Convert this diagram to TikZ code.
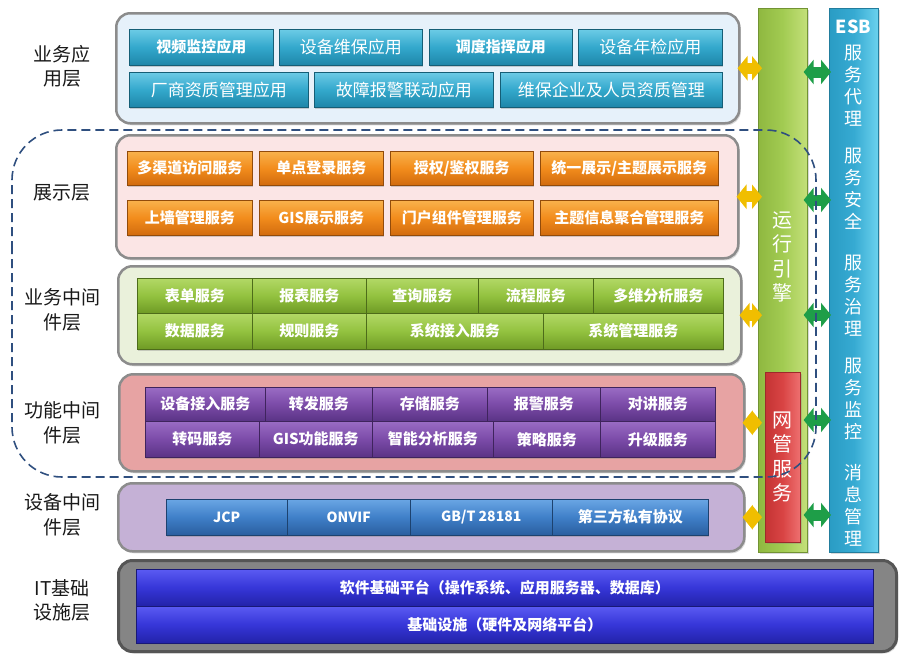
\documentclass[tikz,border=0pt]{standalone}
\usepackage{fontspec}
\setmainfont{Noto Sans CJK SC}
\usetikzlibrary{arrows.meta,shadows}
\definecolor{cyanT}{HTML}{6CCBE6}\definecolor{cyanM}{HTML}{33A8CC}\definecolor{cyanB}{HTML}{1E86A8}
\definecolor{orgT}{HTML}{F9B24C}\definecolor{orgM}{HTML}{F28C1C}\definecolor{orgB}{HTML}{D16B0E}
\definecolor{grnT}{HTML}{B2D866}\definecolor{grnM}{HTML}{93C23F}\definecolor{grnB}{HTML}{6E9A25}
\definecolor{purT}{HTML}{9A6CC4}\definecolor{purM}{HTML}{7B4BA8}\definecolor{purB}{HTML}{5A3385}
\definecolor{bluT}{HTML}{6AA6E4}\definecolor{bluM}{HTML}{3F7FC8}\definecolor{bluB}{HTML}{2A5E9E}
\definecolor{indT}{HTML}{5A5AF2}\definecolor{indM}{HTML}{3636D8}\definecolor{indB}{HTML}{2222A8}
\definecolor{fillA}{HTML}{E6F1FA}\definecolor{fillB}{HTML}{FBE5E5}\definecolor{fillC}{HTML}{EAF1DB}
\definecolor{fillD}{HTML}{E7A3A3}\definecolor{fillE}{HTML}{C5B1D6}\definecolor{fillF}{HTML}{858585}
\definecolor{laygray}{HTML}{8C8C8C}\definecolor{laydark}{HTML}{555555}
\definecolor{engL}{HTML}{8FB840}\definecolor{engM}{HTML}{A2CB52}\definecolor{engR}{HTML}{C4E07A}
\definecolor{nmL}{HTML}{C43434}\definecolor{nmM}{HTML}{D94444}\definecolor{nmR}{HTML}{EE7070}
\definecolor{esbL}{HTML}{2A9CC4}\definecolor{esbM}{HTML}{36AAD2}\definecolor{esbR}{HTML}{6CD2EE}
\definecolor{ygold}{HTML}{F0BE00}\definecolor{garrow}{HTML}{1E9E48}\definecolor{dashc}{HTML}{2F4F7F}
\newcommand\mkb[7]{\node[#1, minimum width={#5-#3}, minimum height={#6-#4}, anchor=north west] (#2) at (#3,#4) {#7};}
\newcommand\bfbtn{\fontsize{15}{18}\selectfont\bfseries}
\newcommand\rgbtn{\fontsize{17}{20}\selectfont}
\begin{document}
\begin{tikzpicture}[x=1pt,y=-1pt,
  btn/.style={draw=#1B!70!black, line width=0.5pt, top color=#1T, bottom color=#1B, middle color=#1M,
    text=white, inner sep=0pt, font=\bfbtn, drop shadow={opacity=0.35,shadow xshift=1pt,shadow yshift=-1.5pt}},
  layer/.style={rounded corners=14pt, draw=laygray, line width=2.5pt, fill=#1,
    drop shadow={opacity=0.3,shadow xshift=1.5pt,shadow yshift=-2pt}},
  col/.style={draw=#1L!80!black, line width=0.6pt, left color=#1L, right color=#1R, middle color=#1M, inner sep=0pt,
    drop shadow={opacity=0.3,shadow xshift=1.5pt,shadow yshift=-2pt}},
  lab/.style={align=center, font=\fontsize{19}{24.5}\selectfont, text=black!90, inner sep=0pt},
  coltext/.style={align=center, text=white, inner sep=0pt, font=\fontsize{20}{24.5}\selectfont},
  esbtext/.style={align=center, text=white, inner sep=0pt, font=\fontsize{18}{22}\selectfont},
  yarr/.style={draw=ygold, line width=11pt, {Triangle[width=24pt,length=10pt]}-{Triangle[width=24pt,length=10pt]}, shorten <=-3pt, shorten >=-4pt},
  garr/.style={draw=garrow, line width=11pt, {Triangle[width=24pt,length=10pt]}-{Triangle[width=24pt,length=10pt]}, shorten <=-4pt, shorten >=-2pt},
  dashline/.style={draw=dashc, line width=1.6pt, dash pattern=on 9pt off 5pt, rounded corners=50pt}
]
\useasboundingbox (0,0) rectangle (907,659);
% layer boxes
\mkb{layer=fillA}{L1}{115}{12}{738}{122}{}
\mkb{layer=fillB}{L2}{115}{134}{737}{257}{}
\mkb{layer=fillC}{L3}{117}{265}{740}{363}{}
\mkb{layer=fillD}{L4}{118}{373}{743}{470}{}
\mkb{layer=fillE}{L5}{117}{482}{743}{550}{}
\mkb{layer=fillF, draw=laydark, line width=3pt}{L6}{117}{559}{895}{650}{}
% columns
\mkb{col=eng}{eng}{758}{8}{807}{552}{}
\mkb{col=nm}{nm}{765}{372}{800}{542}{}
\mkb{col=esb}{esb}{829}{8}{878}{552}{}
% layer labels
\node[lab] (lab1) at (62,66.5) {业务应\\用层};
\node[lab] (lab2) at (62,193) {展示层};
\node[lab] (lab3) at (62,310) {业务中间\\件层};
\node[lab] (lab4) at (62,423) {功能中间\\件层};
\node[lab] (lab5) at (62,515) {设备中间\\件层};
\node[lab] (lab6) at (62,600.5) {IT基础\\设施层};
% layer 1
\mkb{btn=cyan}{a1}{129}{29}{273}{65}{视频监控应用}
\mkb{btn=cyan, font=\rgbtn}{a2}{279}{29}{422}{65}{设备维保应用}
\mkb{btn=cyan}{a3}{429}{29}{572}{65}{调度指挥应用}
\mkb{btn=cyan, font=\rgbtn}{a4}{578}{29}{722}{65}{设备年检应用}
\mkb{btn=cyan, font=\rgbtn}{a5}{129}{72}{308}{107}{厂商资质管理应用}
\mkb{btn=cyan, font=\rgbtn}{a6}{314}{72}{493}{107}{故障报警联动应用}
\mkb{btn=cyan, font=\rgbtn}{a7}{500}{72}{722}{107}{维保企业及人员资质管理}
% layer 2
\mkb{btn=org}{b1}{127}{151}{252}{185}{多渠道访问服务}
\mkb{btn=org}{b2}{259}{151}{383}{185}{单点登录服务}
\mkb{btn=org}{b3}{390}{151}{533}{185}{授权/鉴权服务}
\mkb{btn=org}{b4}{540}{151}{718}{185}{统一展示/主题展示服务}
\mkb{btn=org}{b5}{127}{200}{252}{235}{上墙管理服务}
\mkb{btn=org}{b6}{259}{200}{383}{235}{GIS展示服务}
\mkb{btn=org}{b7}{390}{200}{533}{235}{门户组件管理服务}
\mkb{btn=org}{b8}{540}{200}{718}{235}{主题信息聚合管理服务}
% layer 3
\mkb{btn=grn}{c1}{137}{278}{252}{313}{表单服务}
\mkb{btn=grn}{c2}{252}{278}{366}{313}{报表服务}
\mkb{btn=grn}{c3}{366}{278}{478}{313}{查询服务}
\mkb{btn=grn}{c4}{478}{278}{593}{313}{流程服务}
\mkb{btn=grn}{c5}{593}{278}{723}{313}{多维分析服务}
\mkb{btn=grn}{c6}{137}{313}{252}{349}{数据服务}
\mkb{btn=grn}{c7}{252}{313}{366}{349}{规则服务}
\mkb{btn=grn}{c8}{366}{313}{543}{349}{系统接入服务}
\mkb{btn=grn}{c9}{543}{313}{723}{349}{系统管理服务}
% layer 4
\mkb{btn=pur}{d1}{145}{387}{265}{421}{设备接入服务}
\mkb{btn=pur}{d2}{265}{387}{372}{421}{转发服务}
\mkb{btn=pur}{d3}{372}{387}{487}{421}{存储服务}
\mkb{btn=pur}{d4}{487}{387}{600}{421}{报警服务}
\mkb{btn=pur}{d5}{600}{387}{715}{421}{对讲服务}
\mkb{btn=pur}{d6}{145}{421}{259}{457}{转码服务}
\mkb{btn=pur}{d7}{259}{421}{372}{457}{GIS功能服务}
\mkb{btn=pur}{d8}{372}{421}{493}{457}{智能分析服务}
\mkb{btn=pur}{d9}{493}{421}{600}{457}{策略服务}
\mkb{btn=pur}{d10}{600}{421}{715}{457}{升级服务}
% layer 5
\mkb{btn=blu, font=\fontsize{14}{17}\selectfont\bfseries}{e1}{166}{499}{287}{535}{JCP}
\mkb{btn=blu, font=\fontsize{14}{17}\selectfont\bfseries}{e2}{287}{499}{410}{535}{ONVIF}
\mkb{btn=blu, font=\fontsize{14}{17}\selectfont\bfseries}{e3}{410}{499}{552}{535}{GB/T 28181}
\mkb{btn=blu}{e4}{552}{499}{708}{535}{第三方私有协议}
% IT layer
\mkb{btn=ind}{f1}{136}{569}{873}{606}{软件基础平台（操作系统、应用服务器、数据库）}
\mkb{btn=ind}{f2}{136}{606}{873}{643}{基础设施（硬件及网络平台）}
% column texts
\node[coltext] (engt) at (782.5,257) {运\\行\\引\\擎};
\node[coltext] (nmt) at (782.5,457) {网\\管\\服\\务};
\node[esbtext, font=\fontsize{18}{22}\selectfont\bfseries] (esbt) at (853.5,27) {ESB};
\node[esbtext] (s1) at (853.5,85.5) {服\\务\\代\\理};
\node[esbtext] (s2) at (853.5,189) {服\\务\\安\\全};
\node[esbtext] (s3) at (853.5,295.5) {服\\务\\治\\理};
\node[esbtext] (s4) at (853.5,399) {服\\务\\监\\控};
\node[esbtext] (s5) at (853.5,505.5) {消\\息\\管\\理};
% yellow arrows
\draw[yarr] (L1.east) -- (L1.east -| eng.west);
\draw[yarr] (L2.east) -- (L2.east -| eng.west);
\draw[yarr] (L3.east) -- (L3.east -| eng.west);
\draw[yarr] (L4.east) -- (L4.east -| eng.west);
\draw[yarr] (L5.east) -- (L5.east -| eng.west);
% green arrows
\draw[garr] (eng.east |- 0,72) -- (esb.west |- 0,72);
\draw[garr] (eng.east |- 0,200) -- (esb.west |- 0,200);
\draw[garr] (eng.east |- 0,315) -- (esb.west |- 0,315);
\draw[garr] (eng.east |- 0,420) -- (esb.west |- 0,420);
\draw[garr] (eng.east |- 0,515) -- (esb.west |- 0,515);
% dashed region
\draw[dashline] (12,300) -- (12,130) -- (816,130) -- (816,477) -- (12,477) -- cycle;
\end{tikzpicture}
\end{document}
